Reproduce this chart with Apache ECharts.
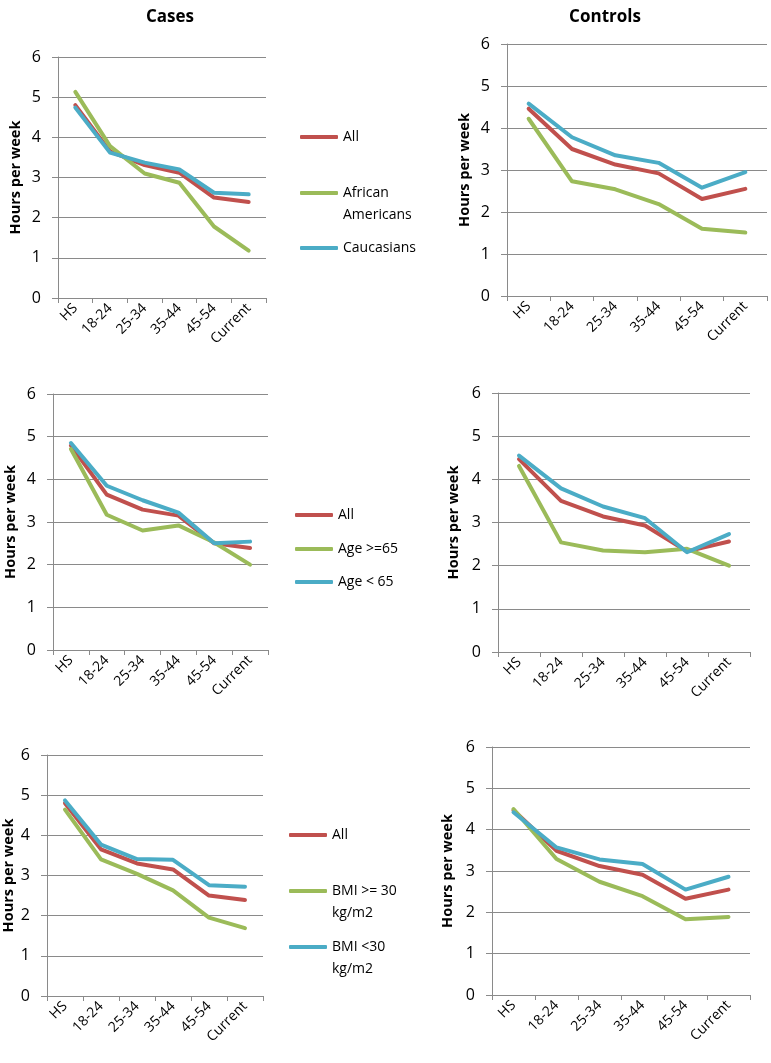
<!DOCTYPE html>
<html><head><meta charset="utf-8">
<script src="https://cdn.jsdelivr.net/npm/echarts@6/dist/echarts.min.js"></script>
<style>html,body{margin:0;padding:0;background:#fff}#c{width:771px;height:1063px}</style>
</head><body><div id="c"></div>
<script>
// ---- data ----
const categories = ['HS', '18-24', '25-34', '35-44', '45-54', 'Current'];
const yTicks = [0, 1, 2, 3, 4, 5, 6];

// Race panels
const casesAll_race   = [4.80, 3.65, 3.31, 3.12, 2.50, 2.39];
const casesAfrAm      = [5.13, 3.78, 3.10, 2.87, 1.78, 1.18];
const casesCauc       = [4.74, 3.62, 3.37, 3.20, 2.62, 2.58];
const ctrlAll_race    = [4.46, 3.50, 3.13, 2.92, 2.31, 2.55];
const ctrlAfrAm       = [4.22, 2.73, 2.54, 2.19, 1.60, 1.51];
const ctrlCauc        = [4.58, 3.78, 3.35, 3.17, 2.58, 2.95];

// Age panels
const casesAll_age    = [4.79, 3.64, 3.29, 3.15, 2.50, 2.39];
const casesAge65plus  = [4.71, 3.17, 2.80, 2.92, 2.52, 2.00];
const casesAgeUnder65 = [4.85, 3.85, 3.51, 3.22, 2.50, 2.54];
const ctrlAll_age     = [4.47, 3.50, 3.14, 2.93, 2.33, 2.56];
const ctrlAge65plus   = [4.31, 2.54, 2.35, 2.31, 2.39, 2.00];
const ctrlAgeUnder65  = [4.55, 3.79, 3.37, 3.10, 2.31, 2.73];

// BMI panels
const casesAll_bmi    = [4.80, 3.65, 3.30, 3.15, 2.50, 2.39];
const casesBmiHigh    = [4.64, 3.40, 3.04, 2.63, 1.95, 1.69];
const casesBmiLow     = [4.87, 3.77, 3.41, 3.39, 2.76, 2.72];
const ctrlAll_bmi     = [4.47, 3.49, 3.12, 2.91, 2.33, 2.55];
const ctrlBmiHigh     = [4.50, 3.29, 2.74, 2.39, 1.83, 1.89];
const ctrlBmiLow      = [4.42, 3.57, 3.28, 3.17, 2.55, 2.86];

const panelTitles = ['Cases', 'Controls'];
const yAxisName = 'Hours per week';
const legendNames = [
  ['All', 'African Americans', 'Caucasians'],
  ['All', 'Age >=65', 'Age < 65'],
  ['All', 'BMI >= 30 kg/m2', 'BMI <30 kg/m2']
];
const legendLabels = {
  'African Americans': 'African\nAmericans',
  'BMI >= 30 kg/m2': 'BMI >= 30\nkg/m2',
  'BMI <30 kg/m2': 'BMI <30\nkg/m2'
};
const panelData = [
  [casesAll_race, casesAfrAm, casesCauc],
  [ctrlAll_race, ctrlAfrAm, ctrlCauc],
  [casesAll_age, casesAge65plus, casesAgeUnder65],
  [ctrlAll_age, ctrlAge65plus, ctrlAgeUnder65],
  [casesAll_bmi, casesBmiHigh, casesBmiLow],
  [ctrlAll_bmi, ctrlBmiHigh, ctrlBmiLow]
];

// ---- layout / style ----
const COLORS = ['#C0504D', '#9BBB59', '#4BACC6'];
const FONT = 'Open Sans';
const GRID_C = '#8a8a8a';
const grids = [
  {left: 58,  top: 57,  width: 208, height: 241},
  {left: 507, top: 44,  width: 260, height: 252},
  {left: 53,  top: 394, width: 215, height: 256},
  {left: 498, top: 393, width: 252, height: 259},
  {left: 47,  top: 755, width: 216, height: 241},
  {left: 492, top: 747, width: 258, height: 248}
];
const nameGaps = [35, 35, 35, 37, 31, 37];

const xAxes = [], yAxes = [], series = [];
grids.forEach((g, i) => {
  xAxes.push({
    gridIndex: i, type: 'category', data: categories, boundaryGap: true,
    axisLine: {lineStyle: {color: GRID_C, width: 1}},
    axisTick: {show: true, alignWithLabel: false, length: 5, lineStyle: {color: GRID_C}},
    axisLabel: {rotate: 45, interval: 0, color: '#000', fontFamily: FONT, fontSize: 14, margin: 8}
  });
  yAxes.push({
    gridIndex: i, type: 'value', min: yTicks[0], max: yTicks[yTicks.length - 1], interval: 1,
    name: yAxisName, nameLocation: 'middle', nameGap: nameGaps[i], nameRotate: 90,
    nameTextStyle: {fontFamily: FONT, fontWeight: 'bold', fontSize: 14.5, color: '#000'},
    axisLine: {show: true, lineStyle: {color: GRID_C, width: 1}},
    axisTick: {show: true, length: 6, lineStyle: {color: GRID_C}},
    axisLabel: {color: '#000', fontFamily: FONT, fontSize: 16, margin: 17},
    splitLine: {show: true, lineStyle: {color: GRID_C, width: 1}}
  });
  const row = Math.floor(i / 2);
  panelData[i].forEach((arr, k) => {
    series.push({
      type: 'line', name: legendNames[row][k], xAxisIndex: i, yAxisIndex: i,
      data: arr, showSymbol: false, symbol: 'none', silent: true,
      lineStyle: {color: COLORS[k], width: 4, cap: 'round', join: 'round'},
      itemStyle: {color: COLORS[k]}
    });
  });
});

// legends: one component per entry
const legendPos = [
  [{x: 300, y: 137}, {x: 300, y: 193, two: true}, {x: 300, y: 248}],
  [{x: 295, y: 515}, {x: 295, y: 549}, {x: 295, y: 582}],
  [{x: 289, y: 835}, {x: 289, y: 891, two: true}, {x: 289, y: 947, two: true}]
];
const LH = 22;
const legends = [];
legendPos.forEach((row, r) => {
  row.forEach((p, k) => {
    const name = legendNames[r][k];
    legends.push({
      data: [name], orient: 'vertical', left: p.x,
      top: p.two ? p.y - 1.5 * LH : p.y - LH / 2,
      padding: 0, itemWidth: 38, itemHeight: 4, icon: 'roundRect',
      selectedMode: false,
      // two-line labels get a blank leading line so the icon sits on the first text line
      formatter: n => legendLabels[n] ? ' \n' + legendLabels[n] : n,
      textStyle: {fontFamily: FONT, fontSize: 14, color: '#000', lineHeight: LH}
    });
  });
});

const chart = echarts.init(document.getElementById('c'), null, {renderer: 'canvas'});
chart.setOption({
  animation: false,
  backgroundColor: '#fff',
  title: [
    {text: panelTitles[0], left: 165, top: 4, textAlign: 'center',
     textStyle: {fontFamily: FONT, fontWeight: 'bold', fontSize: 17, color: '#000'}},
    {text: panelTitles[1], left: 600, top: 4, textAlign: 'center',
     textStyle: {fontFamily: FONT, fontWeight: 'bold', fontSize: 17, color: '#000'}}
  ],
  legend: legends,
  grid: grids,
  xAxis: xAxes,
  yAxis: yAxes,
  series: series
});
</script></body></html>
